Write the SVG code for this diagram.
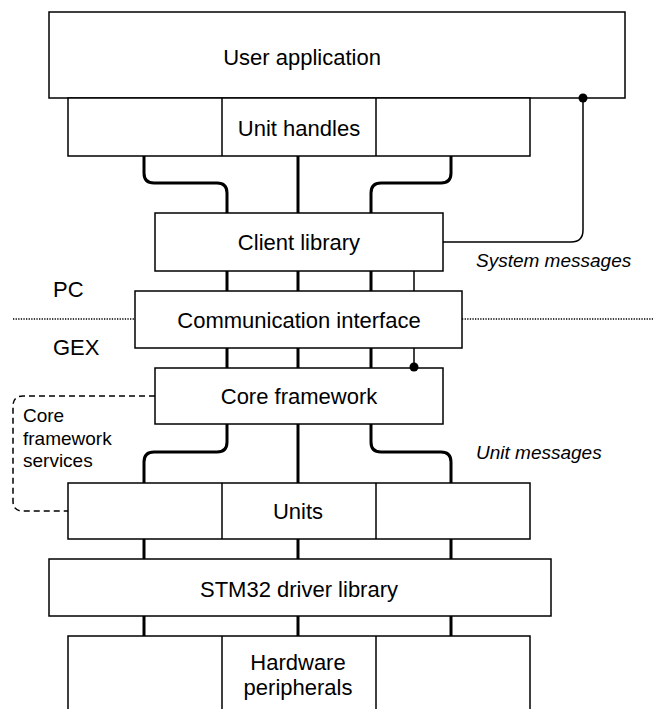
<svg xmlns="http://www.w3.org/2000/svg" width="653" height="709" viewBox="0 0 653 709">
<style>
.box{fill:#fff;stroke:#000;stroke-width:1.5}
.t{font-family:"Liberation Sans",Arial,sans-serif;font-size:22px;fill:#000;text-anchor:middle}
.s{font-family:"Liberation Sans",Arial,sans-serif;font-size:19px;fill:#000}
.i{font-style:italic}
.thick{fill:none;stroke:#000;stroke-width:3}
.thin{fill:none;stroke:#000;stroke-width:1.5}
.dash{fill:none;stroke:#000;stroke-width:1.5;stroke-dasharray:6 4}
.dot{fill:none;stroke:#000;stroke-width:1.3;stroke-dasharray:1.3 1.3}
</style>
<g id="connectors">
<path class="thick" d="M144,156 V173 Q144,183 154,183 H217 Q227,183 227,193 V213"/>
<path class="thick" d="M298,156 V213"/>
<path class="thick" d="M451,156 V173 Q451,183 441,183 H381 Q371,183 371,193 V213"/>
<path class="thick" d="M227,271 V291 M298,271 V291 M371,271 V291"/>
<path class="thin" d="M414,271 V291"/>
<path class="thick" d="M227,348 V368 M298,348 V368 M371,348 V368"/>
<path class="thin" d="M414,348 V367"/>
<path class="thick" d="M227,424 V442 Q227,452 217,452 H154 Q144,452 144,462 V483"/>
<path class="thick" d="M298,424 V483"/>
<path class="thick" d="M371,424 V442 Q371,452 381,452 H441 Q451,452 451,462 V483"/>
<path class="thick" d="M144,539 V559 M298,539 V559 M451,539 V559"/>
<path class="thick" d="M144,616 V636 M298,616 V636 M451,616 V636"/>
<path class="thin" d="M583,98 V230 Q583,242 571,242 H443"/>
<path class="dash" d="M155,396 H23 Q13,396 13,406 V501 Q13,511 23,511 H68"/>
<path class="dot" d="M13,319 H135 M462,319 H653"/>
</g>
<g id="user-application">
<rect class="box" x="49" y="12" width="576" height="86"/>
<text class="t" x="302" y="65">User application</text>
</g>
<g id="unit-handles">
<rect class="box" x="68" y="98" width="462" height="58"/>
<path class="thin" d="M222,98 V156 M376,98 V156"/>
<text class="t" x="299" y="136">Unit handles</text>
</g>
<g id="client-library">
<rect class="box" x="155" y="213" width="288" height="58"/>
<text class="t" x="299" y="250">Client library</text>
</g>
<g id="communication-interface">
<rect class="box" x="135" y="291" width="327" height="57"/>
<text class="t" x="299" y="328">Communication interface</text>
</g>
<g id="core-framework">
<rect class="box" x="155" y="368" width="288" height="56"/>
<text class="t" x="299" y="404">Core framework</text>
</g>
<g id="units">
<rect class="box" x="68" y="483" width="462" height="56"/>
<path class="thin" d="M222,483 V539 M376,483 V539"/>
<text class="t" x="298" y="519">Units</text>
</g>
<g id="stm32-driver-library">
<rect class="box" x="49" y="559" width="502" height="57"/>
<text class="t" x="299" y="597">STM32 driver library</text>
</g>
<g id="hardware-peripherals">
<rect class="box" x="68" y="636" width="462" height="80"/>
<path class="thin" d="M222,636 V716 M376,636 V716"/>
<text class="t" x="298" y="670">Hardware</text>
<text class="t" x="298" y="695">peripherals</text>
</g>
<g id="labels">
<circle cx="583" cy="98" r="4.5" fill="#000"/>
<circle cx="414" cy="367" r="4.5" fill="#000"/>
<text class="s i" x="476" y="267">System messages</text>
<text class="s i" x="476" y="459">Unit messages</text>
<text class="t" x="53" y="297" style="text-anchor:start">PC</text>
<text class="t" x="53" y="355" style="text-anchor:start">GEX</text>
<text class="s" x="23" y="422">Core</text>
<text class="s" x="23" y="445">framework</text>
<text class="s" x="23" y="467">services</text>
</g>
</svg>
